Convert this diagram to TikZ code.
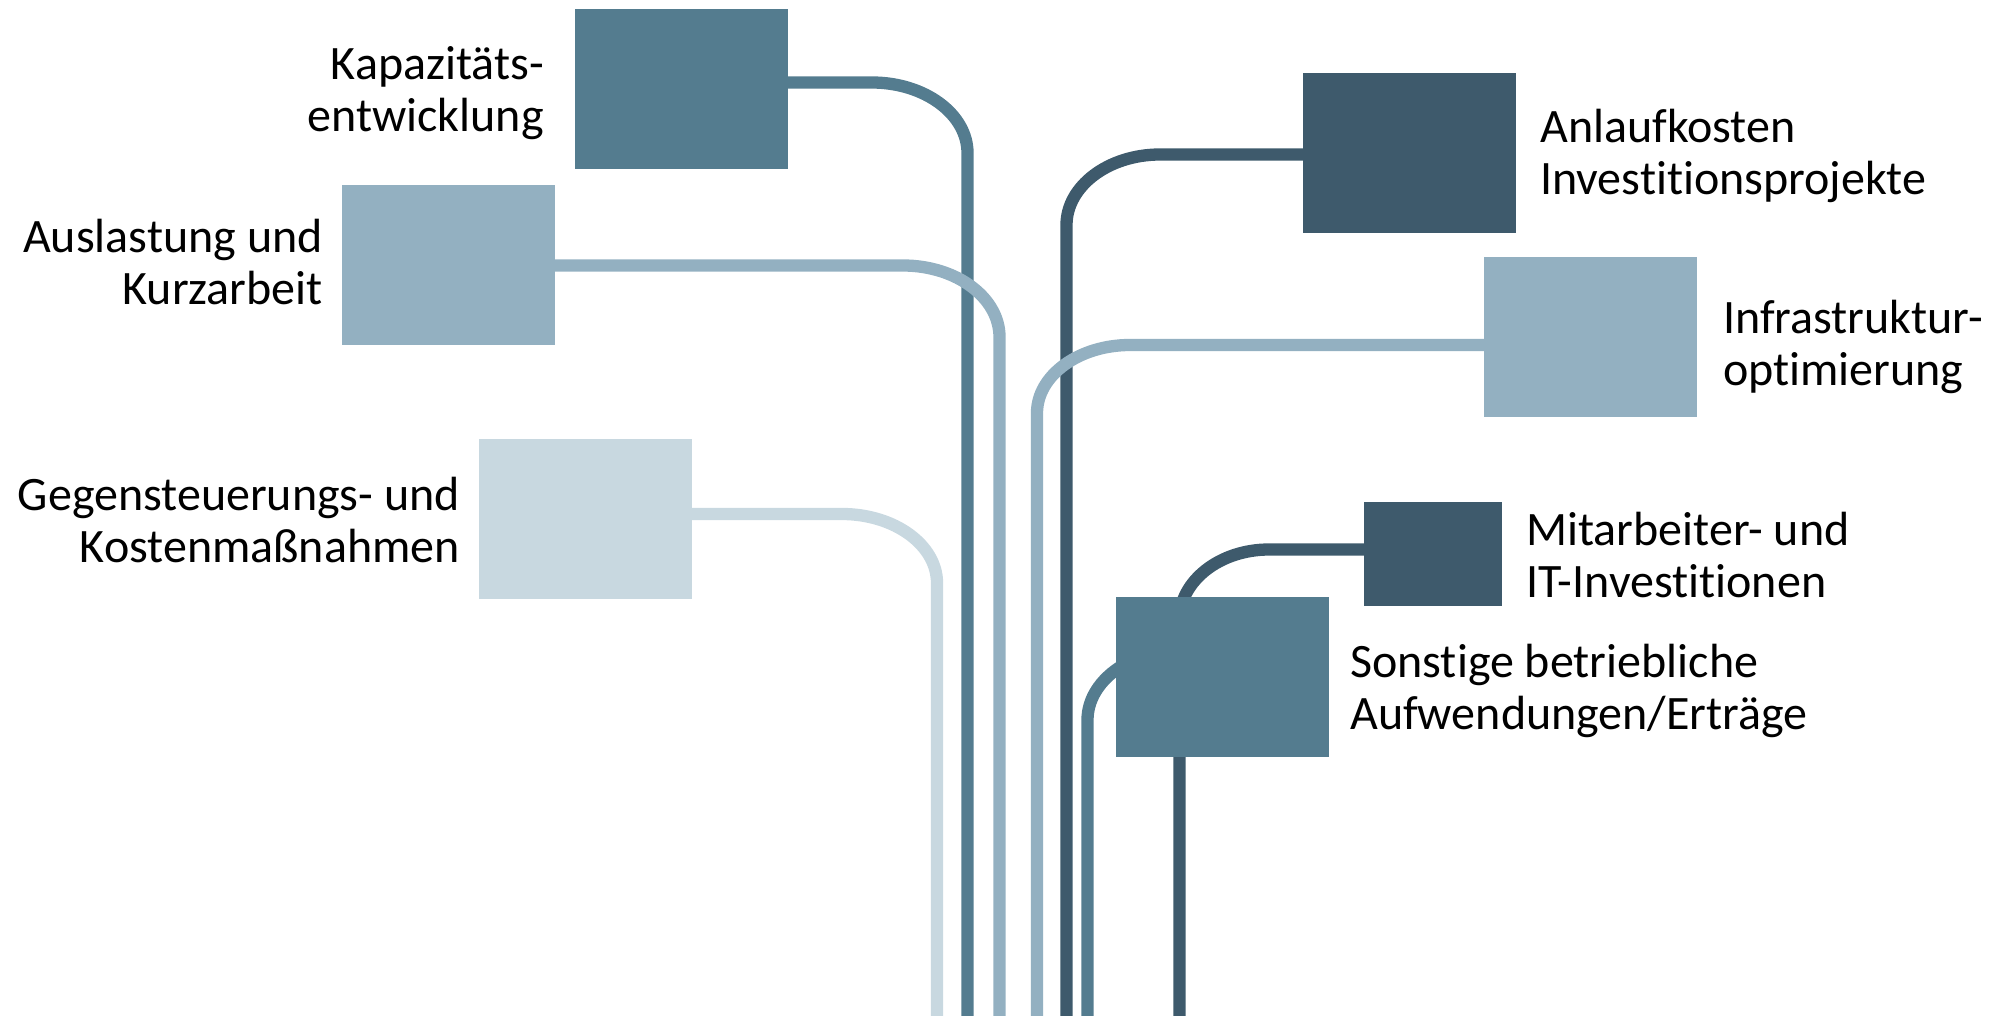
\documentclass[tikz,border=0pt]{standalone}
\usepackage{fontspec}
\setmainfont[Ligatures=NoCommon]{Carlito}
\definecolor{cmid}{HTML}{547C8F}
\definecolor{cdark}{HTML}{3E5A6C}
\definecolor{clight}{HTML}{93B0C1}
\definecolor{cpale}{HTML}{C8D8E0}
\tikzset{
  box/.style={rectangle, inner sep=0pt, minimum width=213pt, minimum height=160pt, draw=none},
  conn/.style={line width=12.3pt, line cap=butt},
  lbl/.style={inner sep=0pt, font=\fontsize{48}{52}\selectfont},
}
\begin{document}
\begin{tikzpicture}[x=1pt,y=-1pt]
\useasboundingbox (0,0) rectangle (1997,1016);
\path (681.5,89) coordinate (kapc)
      (448.5,265) coordinate (auslc)
      (585.5,519) coordinate (gegenc)
      (1409.5,153) coordinate (anlaufc)
      (1590.5,337) coordinate (infrac)
      (1433,554) coordinate (mitarbc)
      (1222.5,677) coordinate (sonstc);
\coordinate (kapend) at (967.5,1030);
\coordinate (auslend) at (999.5,1030);
\coordinate (gegenend) at (937,1030);
\coordinate (anlaufend) at (1066.5,1030);
\coordinate (infraend) at (1037,1030);
\coordinate (mitarbend) at (1179.5,1030);
\coordinate (sonstend) at (1087.5,1030);
% connectors
\draw[conn, cpale] ([yshift=5pt]gegenc) -- (842,514) .. controls +(52.4,0) and +(0,-38.1) .. (937,583) -- (gegenend);
\draw[conn, cmid] ([yshift=6.5pt]kapc) -- (872,82.5) .. controls +(52.7,0) and +(0,-38.9) .. (967.5,153) -- (kapend);
\draw[conn, cdark] ([yshift=-1.5pt]anlaufc) -- (1160,154.5) .. controls +(-51.6,0) and +(0,-38.9) .. (1066.5,225) -- (anlaufend);
\draw[conn, clight] ([yshift=-0.5pt]auslc) -- (903,265.5) .. controls +(53.3,0) and +(0,-39.5) .. (999.5,337) -- (auslend);
\draw[conn, clight] ([yshift=-8pt]infrac) -- (1130,345) .. controls +(-51.3,0) and +(0,-37.5) .. (1037,413) -- (infraend);
\draw[conn, cdark] ([yshift=4.5pt]mitarbc) -- (1269,549.5) .. controls +(-49.4,0) and +(0,-38.9) .. (1179.5,620) -- (mitarbend);
\draw[conn, cmid] ([yshift=27pt]sonstc) -- (1181.5,650) .. controls +(-51.9,0) and +(0,-38.6) .. (1087.5,720) -- (sonstend);
% boxes
\node[box, fill=cmid] (kap) at (kapc) {};
\node[box, fill=clight] (ausl) at (auslc) {};
\node[box, fill=cpale] (gegen) at (gegenc) {};
\node[box, fill=cdark] (anlauf) at (anlaufc) {};
\node[box, fill=clight] (infra) at (infrac) {};
\node[box, fill=cdark, minimum width=138pt, minimum height=104pt] (mitarb) at (mitarbc) {};
\node[box, fill=cmid] (sonst) at (sonstc) {};
% labels (base anchor = baseline of last line)
\node[lbl, anchor=base east, align=right] (tkap) at (544,132) {Kapazitäts-\\entwicklung};
\node[lbl, anchor=base east, align=right] (tausl) at (323,305) {Auslastung und\\Kurzarbeit};
\node[lbl, anchor=base east, align=right] (tgegen) at (460,562) {Gegensteuerungs- und\\Kostenmaßnahmen};
\node[lbl, anchor=base west, align=left] (tanlauf) at (1540,195) {Anlaufkosten\\Investitionsprojekte};
\node[lbl, anchor=base west, align=left] (tinfra) at (1723,385) {Infrastruktur-\\optimierung};
\node[lbl, anchor=base west, align=left] (tmitarb) at (1526,597) {Mitarbeiter- und\\IT-Investitionen};
\node[lbl, anchor=base west, align=left] (tsonst) at (1350,729) {Sonstige betriebliche\\Aufwendungen/Erträge};
\end{tikzpicture}
\end{document}
